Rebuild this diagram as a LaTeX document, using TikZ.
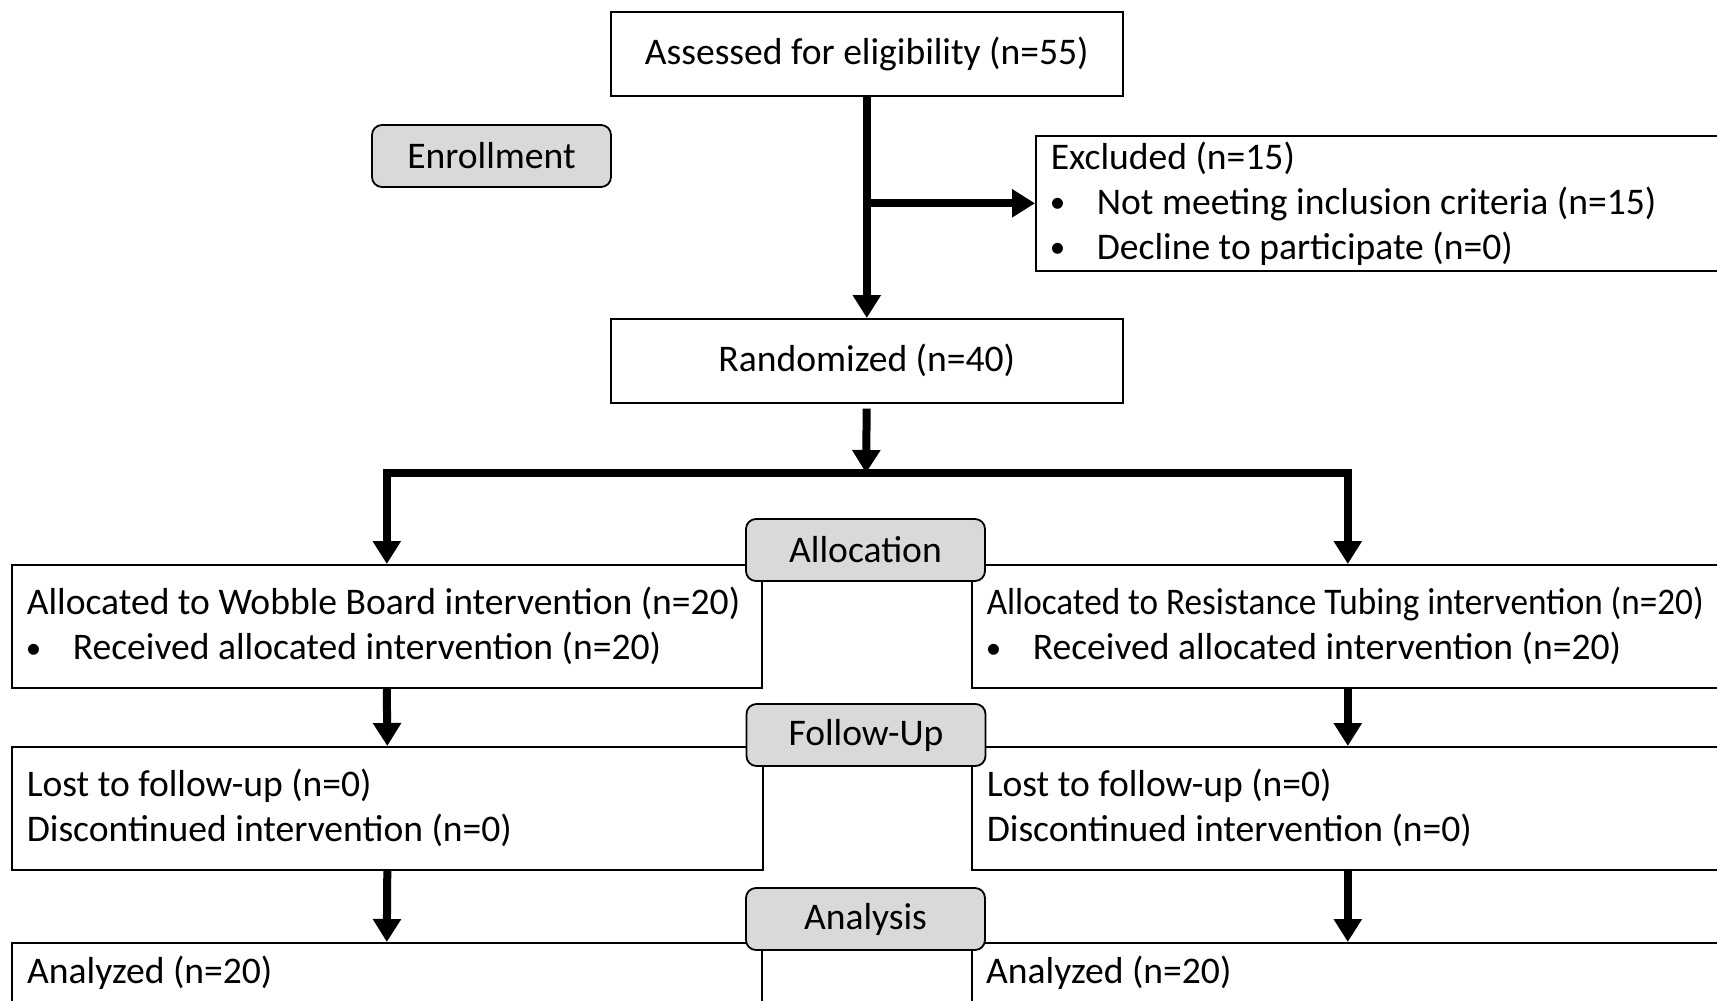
\documentclass[tikz,border=0pt]{standalone}
\usepackage{fontspec}
\setmainfont{Carlito}
\usepackage{xcolor}
\usepackage{graphicx}
\usetikzlibrary{arrows.meta,positioning}
\definecolor{stagegray}{HTML}{D9D9D9}
\newcommand{\itemdot}{\makebox[46pt][l]{\hspace{-1pt}\raisebox{1.5pt}{\fontsize{31}{45}\selectfont\textbullet}}}
\tikzset{
  flowbox/.style={draw=black,line width=1.6pt,fill=white,anchor=north west,align=flush left,inner xsep=15pt,inner ysep=0pt,font=\fontsize{37.6}{45}\selectfont},
  stagelabel/.style={draw=black,line width=1.8pt,rounded corners=10pt,fill=stagegray,minimum width=239pt,minimum height=62pt,inner sep=0pt,font=\fontsize{37.6}{45}\selectfont},
  flowarrow/.style={-{Triangle[width=27pt,length=23pt]},draw=black,line width=8pt},
}

\begin{document}
\begin{tikzpicture}[x=1pt,y=-1pt]
        \useasboundingbox (0,0) rectangle (1717,1001);
        \clip (0,0) rectangle (1717,1001);
        \node[flowbox,align=flush center,text width=482pt,minimum height=84pt] (assess) at (610,11) {Assessed for eligibility (n=55)};
        \node[stagelabel] (enrol) at (491.5,156) {Enrollment};
        \node[flowbox,text width=665pt,minimum height=135pt] (excl) at (1035,135) {Excluded (n=15)\\ \itemdot Not meeting inclusion criteria (n=15)\\ \itemdot Decline to participate (n=0)};
        \node[flowbox,align=flush center,text width=482pt,minimum height=84pt] (rand) at (610,318) {Randomized (n=40)};
        \node[flowbox,text width=720pt,minimum height=123pt] (allocL) at (11,564) {\mbox{Allocated to Wobble Board intervention (n=20)}\\ \itemdot Received allocated intervention (n=20)};
        \node[flowbox,text width=722pt,minimum height=123pt] (allocR) at (971,564) {\resizebox{717pt}{\height}{Allocated to Resistance Tubing intervention (n=20)}\\ \itemdot Received allocated intervention (n=20)};
        \node[flowbox,text width=721pt,minimum height=123pt] (followL) at (11,746) {Lost to follow-up (n=0)\\ Discontinued intervention (n=0)};
        \node[flowbox,text width=722pt,minimum height=123pt] (followR) at (971,746) {Lost to follow-up (n=0)\\ Discontinued intervention (n=0)};
        \node[flowbox,text width=720pt,minimum height=123pt] (analL) at (11,942) {};
        \node[flowbox,text width=722pt,minimum height=123pt] (analR) at (971,942) {};
        \node[anchor=west,inner sep=0pt,font=\fontsize{37.6}{45}\selectfont] (analLtxt) at (27,973) {Analyzed (n=20)};
        \node[anchor=west,inner sep=0pt,font=\fontsize{37.6}{45}\selectfont] (analRtxt) at (986,973) {Analyzed (n=20)};
        \coordinate (split) at (866,473);
        % arrows
        \draw[flowarrow] (assess.south) -- (rand.north);
        \draw[flowarrow] (assess.south |- excl.west) -- (excl.west);
        \draw[flowarrow,shorten <=5pt] (rand.south) -- (split);
        \draw[flowarrow] (split) -| (allocL.north); \draw[flowarrow] (split) -| (allocR.north);
        \draw[flowarrow] (allocL.south) -- (followL.north); \draw[flowarrow] (allocR.south) -- (followR.north);
        \draw[flowarrow] (followL.south) -- (analL.north); \draw[flowarrow] (followR.south) -- (analR.north);
        % stage labels on top
        \node[stagelabel] (allocation) at (865.5,550) {Allocation};
        \node[stagelabel] (followup) at (866,735) {Follow-Up};
        \node[stagelabel] (analysis) at (865.5,919) {Analysis};
      \end{tikzpicture}
\end{document}
